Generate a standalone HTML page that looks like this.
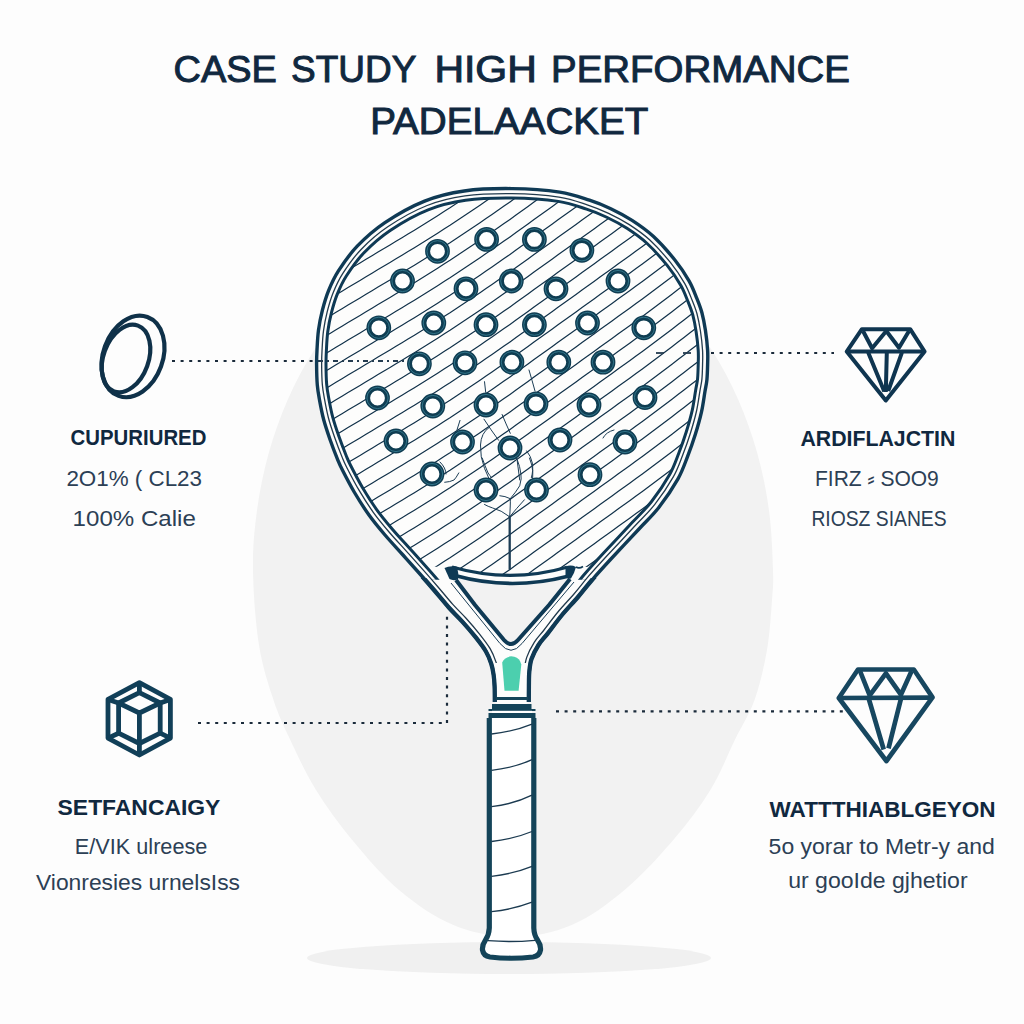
<!DOCTYPE html>
<html><head><meta charset="utf-8">
<style>
html,body{margin:0;padding:0;background:#fdfdfd;}
svg{display:block;}
text{font-family:"Liberation Sans",sans-serif;}
</style></head>
<body>
<svg width="1024" height="1024" viewBox="0 0 1024 1024">
<defs>
<clipPath id="racketClip"><path d="M 494.80 702.00 C 494.77 699.40 494.80 690.95 494.60 686.40 C 494.40 681.85 494.16 678.48 493.60 674.70 C 493.04 670.93 492.55 667.66 491.25 663.75 C 489.95 659.84 488.41 655.67 485.80 651.25 C 483.19 646.83 479.52 642.14 475.60 637.20 C 471.68 632.26 466.77 626.55 462.30 621.60 C 457.83 616.65 453.52 612.77 448.80 607.50 C 444.08 602.23 438.80 595.58 434.00 590.00 C 429.20 584.42 425.17 579.83 420.00 574.00 C 414.83 568.17 408.83 561.50 403.00 555.00 C 397.17 548.50 390.67 541.67 385.00 535.00 C 379.33 528.33 374.08 522.08 369.00 515.00 C 363.92 507.92 358.93 500.00 354.50 492.50 C 350.07 485.00 345.23 475.54 342.40 470.00 C 339.57 464.46 339.61 464.37 337.54 459.28 C 335.47 454.19 332.32 446.06 330.00 439.44 C 327.69 432.82 325.40 426.19 323.64 419.56 C 321.89 412.94 320.53 405.48 319.47 399.69 C 318.41 393.91 317.77 390.64 317.29 384.86 C 316.82 379.07 316.65 370.78 316.60 364.99 C 316.55 359.19 316.68 355.89 317.00 350.09 C 317.31 344.30 317.59 336.84 318.48 330.23 C 319.38 323.62 320.67 317.02 322.35 310.42 C 324.03 303.82 325.89 297.22 328.57 290.64 C 331.25 284.06 333.65 278.33 338.43 270.92 C 343.20 263.51 349.47 254.23 357.22 246.18 C 364.98 238.13 373.71 230.13 384.95 222.61 C 396.18 215.10 411.41 206.35 424.63 201.08 C 437.85 195.81 449.68 193.06 464.24 190.98 C 478.80 188.90 496.06 188.42 511.98 188.60 C 527.90 188.78 546.83 190.15 559.75 192.08 C 572.66 194.02 580.97 197.44 589.47 200.22 C 597.98 202.99 603.67 205.37 610.77 208.74 C 617.87 212.10 624.99 215.82 632.07 220.43 C 639.15 225.03 646.15 229.79 653.25 236.35 C 660.35 242.91 668.71 252.35 674.68 259.77 C 680.64 267.18 685.32 274.37 689.02 280.84 C 692.73 287.32 694.79 293.37 696.93 298.64 C 699.06 303.91 700.44 307.17 701.86 312.44 C 703.27 317.71 704.46 323.98 705.42 330.26 C 706.38 336.53 707.24 344.32 707.60 350.11 C 707.97 355.89 707.72 360.01 707.60 364.96 C 707.48 369.91 707.35 375.37 706.91 379.83 C 706.46 384.29 705.83 386.33 704.92 391.72 C 704.01 397.10 703.05 405.00 701.44 412.13 C 699.83 419.26 697.62 427.03 695.28 434.49 C 692.94 441.95 690.32 449.44 687.42 456.88 C 684.51 464.32 682.61 470.68 677.84 479.12 C 673.08 487.56 665.27 499.19 658.80 507.50 C 652.33 515.81 647.13 520.25 639.00 529.00 C 630.87 537.75 617.83 551.50 610.00 560.00 C 602.17 568.50 597.33 573.83 592.00 580.00 C 586.67 586.17 583.00 591.17 578.00 597.00 C 573.00 602.83 567.07 608.90 562.00 615.00 C 556.93 621.10 551.52 628.60 547.60 633.60 C 543.68 638.60 541.18 640.77 538.50 645.00 C 535.82 649.23 533.03 654.50 531.50 659.00 C 529.97 663.50 529.73 667.43 529.30 672.00 C 528.87 676.57 528.98 681.40 528.90 686.40 C 528.82 691.40 528.82 699.40 528.80 702.00 L 511.7 720 Z"/></clipPath>
<clipPath id="aboveBridge"><path d="M 0 0 H 1024 V 560 L 567 567.2 Q 510 583.6 452 567 L 0 560 Z"/></clipPath>
<clipPath id="aboveBridge2"><path d="M 0 0 H 1024 V 575 Q 512 585 0 575 Z"/></clipPath>
<clipPath id="throatBand"><rect x="0" y="0" width="1024" height="663"/></clipPath>
<clipPath id="belowBridge"><rect x="0" y="578" width="1024" height="200"/></clipPath>
</defs>
<rect width="1024" height="1024" fill="#fdfdfd"/>
<path d="M 253.00 570.00 C 252.66 547.63 254.34 530.22 256.95 510.79 C 259.56 491.35 263.53 471.92 268.68 453.37 C 273.83 434.82 280.31 416.59 287.83 399.50 C 295.36 382.41 304.15 365.93 313.83 350.81 C 323.50 335.69 334.35 321.47 345.88 308.78 C 357.40 296.09 369.97 284.55 383.00 274.69 C 396.03 264.82 409.93 256.32 424.07 249.56 C 438.22 242.81 453.03 237.61 467.85 234.18 C 482.67 230.75 497.95 229.00 513.00 229.00 C 528.05 229.00 543.33 230.75 558.15 234.18 C 572.97 237.61 587.78 242.81 601.93 249.56 C 616.07 256.32 629.97 264.82 643.00 274.69 C 656.03 284.55 668.60 296.09 680.12 308.78 C 691.65 321.47 702.50 335.69 712.17 350.81 C 721.85 365.93 730.64 382.41 738.17 399.50 C 745.69 416.59 752.17 434.82 757.32 453.37 C 762.47 471.92 766.44 491.35 769.05 510.79 C 771.66 530.22 772.51 555.13 773.00 570.00 C 773.49 584.87 773.00 586.67 772.00 600.00 C 771.00 613.33 769.92 633.33 767.00 650.00 C 764.08 666.67 759.87 685.00 754.50 700.00 C 749.13 715.00 742.15 725.00 734.80 740.00 C 727.45 755.00 720.65 773.33 710.40 790.00 C 700.15 806.67 687.62 823.33 673.30 840.00 C 658.98 856.67 641.43 875.83 624.50 890.00 C 607.57 904.17 590.28 917.17 571.70 925.00 C 553.12 932.83 532.72 937.00 513.00 937.00 C 493.28 937.00 472.40 932.83 453.40 925.00 C 434.40 917.17 415.87 904.17 399.00 890.00 C 382.13 875.83 366.03 856.67 352.20 840.00 C 338.37 823.33 326.32 806.67 316.00 790.00 C 305.68 773.33 297.38 755.00 290.30 740.00 C 283.22 725.00 278.72 715.83 273.50 700.00 C 268.28 684.17 262.42 666.67 259.00 645.00 C 255.58 623.33 253.34 592.37 253.00 570.00 Z" fill="#f2f2f2"/>
<ellipse cx="509" cy="958" rx="202" ry="16" fill="#f0f0f0"/>

<!-- dotted connectors -->
<g stroke="#1b2b3b" stroke-width="2.2" stroke-dasharray="3 5.6" fill="none">
<line x1="172" y1="361" x2="318" y2="361"/>
<line x1="711" y1="353" x2="834" y2="353"/>
<line x1="198" y1="723" x2="447" y2="723"/>
<line x1="447" y1="723" x2="447" y2="612"/>
<line x1="556" y1="711.3" x2="846" y2="711.3"/>
</g>

<!-- racket body -->
<path d="M 494.80 702.00 C 494.77 699.40 494.80 690.95 494.60 686.40 C 494.40 681.85 494.16 678.48 493.60 674.70 C 493.04 670.93 492.55 667.66 491.25 663.75 C 489.95 659.84 488.41 655.67 485.80 651.25 C 483.19 646.83 479.52 642.14 475.60 637.20 C 471.68 632.26 466.77 626.55 462.30 621.60 C 457.83 616.65 453.52 612.77 448.80 607.50 C 444.08 602.23 438.80 595.58 434.00 590.00 C 429.20 584.42 425.17 579.83 420.00 574.00 C 414.83 568.17 408.83 561.50 403.00 555.00 C 397.17 548.50 390.67 541.67 385.00 535.00 C 379.33 528.33 374.08 522.08 369.00 515.00 C 363.92 507.92 358.93 500.00 354.50 492.50 C 350.07 485.00 345.23 475.54 342.40 470.00 C 339.57 464.46 339.61 464.37 337.54 459.28 C 335.47 454.19 332.32 446.06 330.00 439.44 C 327.69 432.82 325.40 426.19 323.64 419.56 C 321.89 412.94 320.53 405.48 319.47 399.69 C 318.41 393.91 317.77 390.64 317.29 384.86 C 316.82 379.07 316.65 370.78 316.60 364.99 C 316.55 359.19 316.68 355.89 317.00 350.09 C 317.31 344.30 317.59 336.84 318.48 330.23 C 319.38 323.62 320.67 317.02 322.35 310.42 C 324.03 303.82 325.89 297.22 328.57 290.64 C 331.25 284.06 333.65 278.33 338.43 270.92 C 343.20 263.51 349.47 254.23 357.22 246.18 C 364.98 238.13 373.71 230.13 384.95 222.61 C 396.18 215.10 411.41 206.35 424.63 201.08 C 437.85 195.81 449.68 193.06 464.24 190.98 C 478.80 188.90 496.06 188.42 511.98 188.60 C 527.90 188.78 546.83 190.15 559.75 192.08 C 572.66 194.02 580.97 197.44 589.47 200.22 C 597.98 202.99 603.67 205.37 610.77 208.74 C 617.87 212.10 624.99 215.82 632.07 220.43 C 639.15 225.03 646.15 229.79 653.25 236.35 C 660.35 242.91 668.71 252.35 674.68 259.77 C 680.64 267.18 685.32 274.37 689.02 280.84 C 692.73 287.32 694.79 293.37 696.93 298.64 C 699.06 303.91 700.44 307.17 701.86 312.44 C 703.27 317.71 704.46 323.98 705.42 330.26 C 706.38 336.53 707.24 344.32 707.60 350.11 C 707.97 355.89 707.72 360.01 707.60 364.96 C 707.48 369.91 707.35 375.37 706.91 379.83 C 706.46 384.29 705.83 386.33 704.92 391.72 C 704.01 397.10 703.05 405.00 701.44 412.13 C 699.83 419.26 697.62 427.03 695.28 434.49 C 692.94 441.95 690.32 449.44 687.42 456.88 C 684.51 464.32 682.61 470.68 677.84 479.12 C 673.08 487.56 665.27 499.19 658.80 507.50 C 652.33 515.81 647.13 520.25 639.00 529.00 C 630.87 537.75 617.83 551.50 610.00 560.00 C 602.17 568.50 597.33 573.83 592.00 580.00 C 586.67 586.17 583.00 591.17 578.00 597.00 C 573.00 602.83 567.07 608.90 562.00 615.00 C 556.93 621.10 551.52 628.60 547.60 633.60 C 543.68 638.60 541.18 640.77 538.50 645.00 C 535.82 649.23 533.03 654.50 531.50 659.00 C 529.97 663.50 529.73 667.43 529.30 672.00 C 528.87 676.57 528.98 681.40 528.90 686.40 C 528.82 691.40 528.82 699.40 528.80 702.00 L 511.7 720 Z" fill="#fdfdfc"/>
<g clip-path="url(#racketClip)">
  <g clip-path="url(#aboveBridge)" stroke="#12324a" stroke-width="1.2" fill="none">
  <polyline points="300,176.4 306,172.8 312,169.2 318,165.6 324,162.0 330,158.4 336,154.8 342,151.2 348,147.6 354,144.0 360,140.4 366,136.8 372,133.2 378,129.6 384,126.0 390,122.4 396,118.8 402,115.2 408,111.6 414,107.9 420,104.2 426,100.5 432,96.7 438,92.9 444,89.0 450,85.2 456,81.2 462,77.3 468,73.3 474,69.3 480,65.2 486,61.1 492,57.0 498,52.8 504,48.6 510,44.4 516,40.1 522,35.8 528,31.4 534,27.1 540,22.8 546,18.5 552,14.2 558,9.8 564,5.5 570,1.2 576,-3.1 582,-7.4 588,-11.8 594,-16.1 600,-20.4 606,-24.7 612,-29.0 618,-33.4 624,-37.7 630,-42.0 636,-46.4 642,-50.8 648,-55.3 654,-59.7 660,-64.2 666,-68.8 672,-73.3 678,-77.9 684,-82.5 690,-87.2 696,-91.8 702,-96.5 708,-101.3 714,-106.0 720,-110.8 726,-115.6"/>
<polyline points="300,193.9 306,190.3 312,186.7 318,183.1 324,179.5 330,175.9 336,172.3 342,168.7 348,165.1 354,161.5 360,157.9 366,154.3 372,150.7 378,147.1 384,143.5 390,139.9 396,136.3 402,132.7 408,129.1 414,125.4 420,121.7 426,118.0 432,114.2 438,110.4 444,106.5 450,102.7 456,98.7 462,94.8 468,90.8 474,86.8 480,82.7 486,78.6 492,74.5 498,70.3 504,66.1 510,61.9 516,57.6 522,53.3 528,48.9 534,44.6 540,40.3 546,36.0 552,31.7 558,27.3 564,23.0 570,18.7 576,14.4 582,10.1 588,5.7 594,1.4 600,-2.9 606,-7.2 612,-11.5 618,-15.9 624,-20.2 630,-24.5 636,-28.9 642,-33.3 648,-37.8 654,-42.2 660,-46.7 666,-51.3 672,-55.8 678,-60.4 684,-65.0 690,-69.7 696,-74.3 702,-79.0 708,-83.8 714,-88.5 720,-93.3 726,-98.1"/>
<polyline points="300,211.4 306,207.8 312,204.2 318,200.6 324,197.0 330,193.4 336,189.8 342,186.2 348,182.6 354,179.0 360,175.4 366,171.8 372,168.2 378,164.6 384,161.0 390,157.4 396,153.8 402,150.2 408,146.6 414,142.9 420,139.2 426,135.5 432,131.7 438,127.9 444,124.0 450,120.2 456,116.2 462,112.3 468,108.3 474,104.3 480,100.2 486,96.1 492,92.0 498,87.8 504,83.6 510,79.4 516,75.1 522,70.8 528,66.4 534,62.1 540,57.8 546,53.5 552,49.2 558,44.8 564,40.5 570,36.2 576,31.9 582,27.6 588,23.2 594,18.9 600,14.6 606,10.3 612,6.0 618,1.6 624,-2.7 630,-7.0 636,-11.4 642,-15.8 648,-20.3 654,-24.7 660,-29.2 666,-33.8 672,-38.3 678,-42.9 684,-47.5 690,-52.2 696,-56.8 702,-61.5 708,-66.3 714,-71.0 720,-75.8 726,-80.6"/>
<polyline points="300,228.9 306,225.3 312,221.7 318,218.1 324,214.5 330,210.9 336,207.3 342,203.7 348,200.1 354,196.5 360,192.9 366,189.3 372,185.7 378,182.1 384,178.5 390,174.9 396,171.3 402,167.7 408,164.1 414,160.4 420,156.7 426,153.0 432,149.2 438,145.4 444,141.5 450,137.7 456,133.7 462,129.8 468,125.8 474,121.8 480,117.7 486,113.6 492,109.5 498,105.3 504,101.1 510,96.9 516,92.6 522,88.3 528,83.9 534,79.6 540,75.3 546,71.0 552,66.7 558,62.3 564,58.0 570,53.7 576,49.4 582,45.1 588,40.7 594,36.4 600,32.1 606,27.8 612,23.5 618,19.1 624,14.8 630,10.5 636,6.1 642,1.7 648,-2.8 654,-7.2 660,-11.7 666,-16.3 672,-20.8 678,-25.4 684,-30.0 690,-34.7 696,-39.3 702,-44.0 708,-48.8 714,-53.5 720,-58.3 726,-63.1"/>
<polyline points="300,246.4 306,242.8 312,239.2 318,235.6 324,232.0 330,228.4 336,224.8 342,221.2 348,217.6 354,214.0 360,210.4 366,206.8 372,203.2 378,199.6 384,196.0 390,192.4 396,188.8 402,185.2 408,181.6 414,177.9 420,174.2 426,170.5 432,166.7 438,162.9 444,159.0 450,155.2 456,151.2 462,147.3 468,143.3 474,139.3 480,135.2 486,131.1 492,127.0 498,122.8 504,118.6 510,114.4 516,110.1 522,105.8 528,101.4 534,97.1 540,92.8 546,88.5 552,84.2 558,79.8 564,75.5 570,71.2 576,66.9 582,62.6 588,58.2 594,53.9 600,49.6 606,45.3 612,41.0 618,36.6 624,32.3 630,28.0 636,23.6 642,19.2 648,14.7 654,10.3 660,5.8 666,1.2 672,-3.3 678,-7.9 684,-12.5 690,-17.2 696,-21.8 702,-26.5 708,-31.3 714,-36.0 720,-40.8 726,-45.6"/>
<polyline points="300,263.9 306,260.3 312,256.7 318,253.1 324,249.5 330,245.9 336,242.3 342,238.7 348,235.1 354,231.5 360,227.9 366,224.3 372,220.7 378,217.1 384,213.5 390,209.9 396,206.3 402,202.7 408,199.1 414,195.4 420,191.7 426,188.0 432,184.2 438,180.4 444,176.5 450,172.7 456,168.7 462,164.8 468,160.8 474,156.8 480,152.7 486,148.6 492,144.5 498,140.3 504,136.1 510,131.9 516,127.6 522,123.3 528,118.9 534,114.6 540,110.3 546,106.0 552,101.7 558,97.3 564,93.0 570,88.7 576,84.4 582,80.1 588,75.7 594,71.4 600,67.1 606,62.8 612,58.5 618,54.1 624,49.8 630,45.5 636,41.1 642,36.7 648,32.2 654,27.8 660,23.3 666,18.7 672,14.2 678,9.6 684,5.0 690,0.3 696,-4.3 702,-9.0 708,-13.8 714,-18.5 720,-23.3 726,-28.1"/>
<polyline points="300,281.4 306,277.8 312,274.2 318,270.6 324,267.0 330,263.4 336,259.8 342,256.2 348,252.6 354,249.0 360,245.4 366,241.8 372,238.2 378,234.6 384,231.0 390,227.4 396,223.8 402,220.2 408,216.6 414,212.9 420,209.2 426,205.5 432,201.7 438,197.9 444,194.0 450,190.2 456,186.2 462,182.3 468,178.3 474,174.3 480,170.2 486,166.1 492,162.0 498,157.8 504,153.6 510,149.4 516,145.1 522,140.8 528,136.4 534,132.1 540,127.8 546,123.5 552,119.2 558,114.8 564,110.5 570,106.2 576,101.9 582,97.6 588,93.2 594,88.9 600,84.6 606,80.3 612,76.0 618,71.6 624,67.3 630,63.0 636,58.6 642,54.2 648,49.7 654,45.3 660,40.8 666,36.2 672,31.7 678,27.1 684,22.5 690,17.8 696,13.2 702,8.5 708,3.7 714,-1.0 720,-5.8 726,-10.6"/>
<polyline points="300,298.9 306,295.3 312,291.7 318,288.1 324,284.5 330,280.9 336,277.3 342,273.7 348,270.1 354,266.5 360,262.9 366,259.3 372,255.7 378,252.1 384,248.5 390,244.9 396,241.3 402,237.7 408,234.1 414,230.4 420,226.7 426,223.0 432,219.2 438,215.4 444,211.5 450,207.7 456,203.7 462,199.8 468,195.8 474,191.8 480,187.7 486,183.6 492,179.5 498,175.3 504,171.1 510,166.9 516,162.6 522,158.3 528,153.9 534,149.6 540,145.3 546,141.0 552,136.7 558,132.3 564,128.0 570,123.7 576,119.4 582,115.1 588,110.7 594,106.4 600,102.1 606,97.8 612,93.5 618,89.1 624,84.8 630,80.5 636,76.1 642,71.7 648,67.2 654,62.8 660,58.3 666,53.7 672,49.2 678,44.6 684,40.0 690,35.3 696,30.7 702,26.0 708,21.2 714,16.5 720,11.7 726,6.9"/>
<polyline points="300,316.4 306,312.8 312,309.2 318,305.6 324,302.0 330,298.4 336,294.8 342,291.2 348,287.6 354,284.0 360,280.4 366,276.8 372,273.2 378,269.6 384,266.0 390,262.4 396,258.8 402,255.2 408,251.6 414,247.9 420,244.2 426,240.5 432,236.7 438,232.9 444,229.0 450,225.2 456,221.2 462,217.3 468,213.3 474,209.3 480,205.2 486,201.1 492,197.0 498,192.8 504,188.6 510,184.4 516,180.1 522,175.8 528,171.4 534,167.1 540,162.8 546,158.5 552,154.2 558,149.8 564,145.5 570,141.2 576,136.9 582,132.6 588,128.2 594,123.9 600,119.6 606,115.3 612,111.0 618,106.6 624,102.3 630,98.0 636,93.6 642,89.2 648,84.7 654,80.3 660,75.8 666,71.2 672,66.7 678,62.1 684,57.5 690,52.8 696,48.2 702,43.5 708,38.7 714,34.0 720,29.2 726,24.4"/>
<polyline points="300,333.9 306,330.3 312,326.7 318,323.1 324,319.5 330,315.9 336,312.3 342,308.7 348,305.1 354,301.5 360,297.9 366,294.3 372,290.7 378,287.1 384,283.5 390,279.9 396,276.3 402,272.7 408,269.1 414,265.4 420,261.7 426,258.0 432,254.2 438,250.4 444,246.5 450,242.7 456,238.7 462,234.8 468,230.8 474,226.8 480,222.7 486,218.6 492,214.5 498,210.3 504,206.1 510,201.9 516,197.6 522,193.3 528,188.9 534,184.6 540,180.3 546,176.0 552,171.7 558,167.3 564,163.0 570,158.7 576,154.4 582,150.1 588,145.7 594,141.4 600,137.1 606,132.8 612,128.5 618,124.1 624,119.8 630,115.5 636,111.1 642,106.7 648,102.2 654,97.8 660,93.3 666,88.7 672,84.2 678,79.6 684,75.0 690,70.3 696,65.7 702,61.0 708,56.2 714,51.5 720,46.7 726,41.9"/>
<polyline points="300,351.4 306,347.8 312,344.2 318,340.6 324,337.0 330,333.4 336,329.8 342,326.2 348,322.6 354,319.0 360,315.4 366,311.8 372,308.2 378,304.6 384,301.0 390,297.4 396,293.8 402,290.2 408,286.6 414,282.9 420,279.2 426,275.5 432,271.7 438,267.9 444,264.0 450,260.2 456,256.2 462,252.3 468,248.3 474,244.3 480,240.2 486,236.1 492,232.0 498,227.8 504,223.6 510,219.4 516,215.1 522,210.8 528,206.4 534,202.1 540,197.8 546,193.5 552,189.2 558,184.8 564,180.5 570,176.2 576,171.9 582,167.6 588,163.2 594,158.9 600,154.6 606,150.3 612,146.0 618,141.6 624,137.3 630,133.0 636,128.6 642,124.2 648,119.7 654,115.3 660,110.8 666,106.2 672,101.7 678,97.1 684,92.5 690,87.8 696,83.2 702,78.5 708,73.7 714,69.0 720,64.2 726,59.4"/>
<polyline points="300,368.9 306,365.3 312,361.7 318,358.1 324,354.5 330,350.9 336,347.3 342,343.7 348,340.1 354,336.5 360,332.9 366,329.3 372,325.7 378,322.1 384,318.5 390,314.9 396,311.3 402,307.7 408,304.1 414,300.4 420,296.7 426,293.0 432,289.2 438,285.4 444,281.5 450,277.7 456,273.7 462,269.8 468,265.8 474,261.8 480,257.7 486,253.6 492,249.5 498,245.3 504,241.1 510,236.9 516,232.6 522,228.3 528,223.9 534,219.6 540,215.3 546,211.0 552,206.7 558,202.3 564,198.0 570,193.7 576,189.4 582,185.1 588,180.7 594,176.4 600,172.1 606,167.8 612,163.5 618,159.1 624,154.8 630,150.5 636,146.1 642,141.7 648,137.2 654,132.8 660,128.3 666,123.7 672,119.2 678,114.6 684,110.0 690,105.3 696,100.7 702,96.0 708,91.2 714,86.5 720,81.7 726,76.9"/>
<polyline points="300,386.4 306,382.8 312,379.2 318,375.6 324,372.0 330,368.4 336,364.8 342,361.2 348,357.6 354,354.0 360,350.4 366,346.8 372,343.2 378,339.6 384,336.0 390,332.4 396,328.8 402,325.2 408,321.6 414,317.9 420,314.2 426,310.5 432,306.7 438,302.9 444,299.0 450,295.2 456,291.2 462,287.3 468,283.3 474,279.3 480,275.2 486,271.1 492,267.0 498,262.8 504,258.6 510,254.4 516,250.1 522,245.8 528,241.4 534,237.1 540,232.8 546,228.5 552,224.2 558,219.8 564,215.5 570,211.2 576,206.9 582,202.6 588,198.2 594,193.9 600,189.6 606,185.3 612,181.0 618,176.6 624,172.3 630,168.0 636,163.6 642,159.2 648,154.7 654,150.3 660,145.8 666,141.2 672,136.7 678,132.1 684,127.5 690,122.8 696,118.2 702,113.5 708,108.7 714,104.0 720,99.2 726,94.4"/>
<polyline points="300,403.9 306,400.3 312,396.7 318,393.1 324,389.5 330,385.9 336,382.3 342,378.7 348,375.1 354,371.5 360,367.9 366,364.3 372,360.7 378,357.1 384,353.5 390,349.9 396,346.3 402,342.7 408,339.1 414,335.4 420,331.7 426,328.0 432,324.2 438,320.4 444,316.5 450,312.7 456,308.7 462,304.8 468,300.8 474,296.8 480,292.7 486,288.6 492,284.5 498,280.3 504,276.1 510,271.9 516,267.6 522,263.3 528,258.9 534,254.6 540,250.3 546,246.0 552,241.7 558,237.3 564,233.0 570,228.7 576,224.4 582,220.1 588,215.7 594,211.4 600,207.1 606,202.8 612,198.5 618,194.1 624,189.8 630,185.5 636,181.1 642,176.7 648,172.2 654,167.8 660,163.3 666,158.7 672,154.2 678,149.6 684,145.0 690,140.3 696,135.7 702,131.0 708,126.2 714,121.5 720,116.7 726,111.9"/>
<polyline points="300,421.4 306,417.8 312,414.2 318,410.6 324,407.0 330,403.4 336,399.8 342,396.2 348,392.6 354,389.0 360,385.4 366,381.8 372,378.2 378,374.6 384,371.0 390,367.4 396,363.8 402,360.2 408,356.6 414,352.9 420,349.2 426,345.5 432,341.7 438,337.9 444,334.0 450,330.2 456,326.2 462,322.3 468,318.3 474,314.3 480,310.2 486,306.1 492,302.0 498,297.8 504,293.6 510,289.4 516,285.1 522,280.8 528,276.4 534,272.1 540,267.8 546,263.5 552,259.2 558,254.8 564,250.5 570,246.2 576,241.9 582,237.6 588,233.2 594,228.9 600,224.6 606,220.3 612,216.0 618,211.6 624,207.3 630,203.0 636,198.6 642,194.2 648,189.7 654,185.3 660,180.8 666,176.2 672,171.7 678,167.1 684,162.5 690,157.8 696,153.2 702,148.5 708,143.7 714,139.0 720,134.2 726,129.4"/>
<polyline points="300,438.9 306,435.3 312,431.7 318,428.1 324,424.5 330,420.9 336,417.3 342,413.7 348,410.1 354,406.5 360,402.9 366,399.3 372,395.7 378,392.1 384,388.5 390,384.9 396,381.3 402,377.7 408,374.1 414,370.4 420,366.7 426,363.0 432,359.2 438,355.4 444,351.5 450,347.7 456,343.7 462,339.8 468,335.8 474,331.8 480,327.7 486,323.6 492,319.5 498,315.3 504,311.1 510,306.9 516,302.6 522,298.3 528,293.9 534,289.6 540,285.3 546,281.0 552,276.7 558,272.3 564,268.0 570,263.7 576,259.4 582,255.1 588,250.7 594,246.4 600,242.1 606,237.8 612,233.5 618,229.1 624,224.8 630,220.5 636,216.1 642,211.7 648,207.2 654,202.8 660,198.3 666,193.7 672,189.2 678,184.6 684,180.0 690,175.3 696,170.7 702,166.0 708,161.2 714,156.5 720,151.7 726,146.9"/>
<polyline points="300,456.4 306,452.8 312,449.2 318,445.6 324,442.0 330,438.4 336,434.8 342,431.2 348,427.6 354,424.0 360,420.4 366,416.8 372,413.2 378,409.6 384,406.0 390,402.4 396,398.8 402,395.2 408,391.6 414,387.9 420,384.2 426,380.5 432,376.7 438,372.9 444,369.0 450,365.2 456,361.2 462,357.3 468,353.3 474,349.3 480,345.2 486,341.1 492,337.0 498,332.8 504,328.6 510,324.4 516,320.1 522,315.8 528,311.4 534,307.1 540,302.8 546,298.5 552,294.2 558,289.8 564,285.5 570,281.2 576,276.9 582,272.6 588,268.2 594,263.9 600,259.6 606,255.3 612,251.0 618,246.6 624,242.3 630,238.0 636,233.6 642,229.2 648,224.7 654,220.3 660,215.8 666,211.2 672,206.7 678,202.1 684,197.5 690,192.8 696,188.2 702,183.5 708,178.7 714,174.0 720,169.2 726,164.4"/>
<polyline points="300,473.9 306,470.3 312,466.7 318,463.1 324,459.5 330,455.9 336,452.3 342,448.7 348,445.1 354,441.5 360,437.9 366,434.3 372,430.7 378,427.1 384,423.5 390,419.9 396,416.3 402,412.7 408,409.1 414,405.4 420,401.7 426,398.0 432,394.2 438,390.4 444,386.5 450,382.7 456,378.7 462,374.8 468,370.8 474,366.8 480,362.7 486,358.6 492,354.5 498,350.3 504,346.1 510,341.9 516,337.6 522,333.3 528,328.9 534,324.6 540,320.3 546,316.0 552,311.7 558,307.3 564,303.0 570,298.7 576,294.4 582,290.1 588,285.7 594,281.4 600,277.1 606,272.8 612,268.5 618,264.1 624,259.8 630,255.5 636,251.1 642,246.7 648,242.2 654,237.8 660,233.3 666,228.7 672,224.2 678,219.6 684,215.0 690,210.3 696,205.7 702,201.0 708,196.2 714,191.5 720,186.7 726,181.9"/>
<polyline points="300,491.4 306,487.8 312,484.2 318,480.6 324,477.0 330,473.4 336,469.8 342,466.2 348,462.6 354,459.0 360,455.4 366,451.8 372,448.2 378,444.6 384,441.0 390,437.4 396,433.8 402,430.2 408,426.6 414,422.9 420,419.2 426,415.5 432,411.7 438,407.9 444,404.0 450,400.2 456,396.2 462,392.3 468,388.3 474,384.3 480,380.2 486,376.1 492,372.0 498,367.8 504,363.6 510,359.4 516,355.1 522,350.8 528,346.4 534,342.1 540,337.8 546,333.5 552,329.2 558,324.8 564,320.5 570,316.2 576,311.9 582,307.6 588,303.2 594,298.9 600,294.6 606,290.3 612,286.0 618,281.6 624,277.3 630,273.0 636,268.6 642,264.2 648,259.7 654,255.3 660,250.8 666,246.2 672,241.7 678,237.1 684,232.5 690,227.8 696,223.2 702,218.5 708,213.7 714,209.0 720,204.2 726,199.4"/>
<polyline points="300,508.9 306,505.3 312,501.7 318,498.1 324,494.5 330,490.9 336,487.3 342,483.7 348,480.1 354,476.5 360,472.9 366,469.3 372,465.7 378,462.1 384,458.5 390,454.9 396,451.3 402,447.7 408,444.1 414,440.4 420,436.7 426,433.0 432,429.2 438,425.4 444,421.5 450,417.7 456,413.7 462,409.8 468,405.8 474,401.8 480,397.7 486,393.6 492,389.5 498,385.3 504,381.1 510,376.9 516,372.6 522,368.3 528,363.9 534,359.6 540,355.3 546,351.0 552,346.7 558,342.3 564,338.0 570,333.7 576,329.4 582,325.1 588,320.7 594,316.4 600,312.1 606,307.8 612,303.5 618,299.1 624,294.8 630,290.5 636,286.1 642,281.7 648,277.2 654,272.8 660,268.3 666,263.7 672,259.2 678,254.6 684,250.0 690,245.3 696,240.7 702,236.0 708,231.2 714,226.5 720,221.7 726,216.9"/>
<polyline points="300,526.4 306,522.8 312,519.2 318,515.6 324,512.0 330,508.4 336,504.8 342,501.2 348,497.6 354,494.0 360,490.4 366,486.8 372,483.2 378,479.6 384,476.0 390,472.4 396,468.8 402,465.2 408,461.6 414,457.9 420,454.2 426,450.5 432,446.7 438,442.9 444,439.0 450,435.2 456,431.2 462,427.3 468,423.3 474,419.3 480,415.2 486,411.1 492,407.0 498,402.8 504,398.6 510,394.4 516,390.1 522,385.8 528,381.4 534,377.1 540,372.8 546,368.5 552,364.2 558,359.8 564,355.5 570,351.2 576,346.9 582,342.6 588,338.2 594,333.9 600,329.6 606,325.3 612,321.0 618,316.6 624,312.3 630,308.0 636,303.6 642,299.2 648,294.7 654,290.3 660,285.8 666,281.2 672,276.7 678,272.1 684,267.5 690,262.8 696,258.2 702,253.5 708,248.7 714,244.0 720,239.2 726,234.4"/>
<polyline points="300,543.9 306,540.3 312,536.7 318,533.1 324,529.5 330,525.9 336,522.3 342,518.7 348,515.1 354,511.5 360,507.9 366,504.3 372,500.7 378,497.1 384,493.5 390,489.9 396,486.3 402,482.7 408,479.1 414,475.4 420,471.7 426,468.0 432,464.2 438,460.4 444,456.5 450,452.7 456,448.7 462,444.8 468,440.8 474,436.8 480,432.7 486,428.6 492,424.5 498,420.3 504,416.1 510,411.9 516,407.6 522,403.3 528,398.9 534,394.6 540,390.3 546,386.0 552,381.7 558,377.3 564,373.0 570,368.7 576,364.4 582,360.1 588,355.7 594,351.4 600,347.1 606,342.8 612,338.5 618,334.1 624,329.8 630,325.5 636,321.1 642,316.7 648,312.2 654,307.8 660,303.3 666,298.7 672,294.2 678,289.6 684,285.0 690,280.3 696,275.7 702,271.0 708,266.2 714,261.5 720,256.7 726,251.9"/>
<polyline points="300,561.4 306,557.8 312,554.2 318,550.6 324,547.0 330,543.4 336,539.8 342,536.2 348,532.6 354,529.0 360,525.4 366,521.8 372,518.2 378,514.6 384,511.0 390,507.4 396,503.8 402,500.2 408,496.6 414,492.9 420,489.2 426,485.5 432,481.7 438,477.9 444,474.0 450,470.2 456,466.2 462,462.3 468,458.3 474,454.3 480,450.2 486,446.1 492,442.0 498,437.8 504,433.6 510,429.4 516,425.1 522,420.8 528,416.4 534,412.1 540,407.8 546,403.5 552,399.2 558,394.8 564,390.5 570,386.2 576,381.9 582,377.6 588,373.2 594,368.9 600,364.6 606,360.3 612,356.0 618,351.6 624,347.3 630,343.0 636,338.6 642,334.2 648,329.7 654,325.3 660,320.8 666,316.2 672,311.7 678,307.1 684,302.5 690,297.8 696,293.2 702,288.5 708,283.7 714,279.0 720,274.2 726,269.4"/>
<polyline points="300,578.9 306,575.3 312,571.7 318,568.1 324,564.5 330,560.9 336,557.3 342,553.7 348,550.1 354,546.5 360,542.9 366,539.3 372,535.7 378,532.1 384,528.5 390,524.9 396,521.3 402,517.7 408,514.1 414,510.4 420,506.7 426,503.0 432,499.2 438,495.4 444,491.5 450,487.7 456,483.7 462,479.8 468,475.8 474,471.8 480,467.7 486,463.6 492,459.5 498,455.3 504,451.1 510,446.9 516,442.6 522,438.3 528,433.9 534,429.6 540,425.3 546,421.0 552,416.7 558,412.3 564,408.0 570,403.7 576,399.4 582,395.1 588,390.7 594,386.4 600,382.1 606,377.8 612,373.5 618,369.1 624,364.8 630,360.5 636,356.1 642,351.7 648,347.2 654,342.8 660,338.3 666,333.7 672,329.2 678,324.6 684,320.0 690,315.3 696,310.7 702,306.0 708,301.2 714,296.5 720,291.7 726,286.9"/>
<polyline points="300,596.4 306,592.8 312,589.2 318,585.6 324,582.0 330,578.4 336,574.8 342,571.2 348,567.6 354,564.0 360,560.4 366,556.8 372,553.2 378,549.6 384,546.0 390,542.4 396,538.8 402,535.2 408,531.6 414,527.9 420,524.2 426,520.5 432,516.7 438,512.9 444,509.0 450,505.2 456,501.2 462,497.3 468,493.3 474,489.3 480,485.2 486,481.1 492,477.0 498,472.8 504,468.6 510,464.4 516,460.1 522,455.8 528,451.4 534,447.1 540,442.8 546,438.5 552,434.2 558,429.8 564,425.5 570,421.2 576,416.9 582,412.6 588,408.2 594,403.9 600,399.6 606,395.3 612,391.0 618,386.6 624,382.3 630,378.0 636,373.6 642,369.2 648,364.7 654,360.3 660,355.8 666,351.2 672,346.7 678,342.1 684,337.5 690,332.8 696,328.2 702,323.5 708,318.7 714,314.0 720,309.2 726,304.4"/>
<polyline points="300,613.9 306,610.3 312,606.7 318,603.1 324,599.5 330,595.9 336,592.3 342,588.7 348,585.1 354,581.5 360,577.9 366,574.3 372,570.7 378,567.1 384,563.5 390,559.9 396,556.3 402,552.7 408,549.1 414,545.4 420,541.7 426,538.0 432,534.2 438,530.4 444,526.5 450,522.7 456,518.7 462,514.8 468,510.8 474,506.8 480,502.7 486,498.6 492,494.5 498,490.3 504,486.1 510,481.9 516,477.6 522,473.3 528,468.9 534,464.6 540,460.3 546,456.0 552,451.7 558,447.3 564,443.0 570,438.7 576,434.4 582,430.1 588,425.7 594,421.4 600,417.1 606,412.8 612,408.5 618,404.1 624,399.8 630,395.5 636,391.1 642,386.7 648,382.2 654,377.8 660,373.3 666,368.7 672,364.2 678,359.6 684,355.0 690,350.3 696,345.7 702,341.0 708,336.2 714,331.5 720,326.7 726,321.9"/>
<polyline points="300,631.4 306,627.8 312,624.2 318,620.6 324,617.0 330,613.4 336,609.8 342,606.2 348,602.6 354,599.0 360,595.4 366,591.8 372,588.2 378,584.6 384,581.0 390,577.4 396,573.8 402,570.2 408,566.6 414,562.9 420,559.2 426,555.5 432,551.7 438,547.9 444,544.0 450,540.2 456,536.2 462,532.3 468,528.3 474,524.3 480,520.2 486,516.1 492,512.0 498,507.8 504,503.6 510,499.4 516,495.1 522,490.8 528,486.4 534,482.1 540,477.8 546,473.5 552,469.2 558,464.8 564,460.5 570,456.2 576,451.9 582,447.6 588,443.2 594,438.9 600,434.6 606,430.3 612,426.0 618,421.6 624,417.3 630,413.0 636,408.6 642,404.2 648,399.7 654,395.3 660,390.8 666,386.2 672,381.7 678,377.1 684,372.5 690,367.8 696,363.2 702,358.5 708,353.7 714,349.0 720,344.2 726,339.4"/>
<polyline points="300,648.9 306,645.3 312,641.7 318,638.1 324,634.5 330,630.9 336,627.3 342,623.7 348,620.1 354,616.5 360,612.9 366,609.3 372,605.7 378,602.1 384,598.5 390,594.9 396,591.3 402,587.7 408,584.1 414,580.4 420,576.7 426,573.0 432,569.2 438,565.4 444,561.5 450,557.7 456,553.7 462,549.8 468,545.8 474,541.8 480,537.7 486,533.6 492,529.5 498,525.3 504,521.1 510,516.9 516,512.6 522,508.3 528,503.9 534,499.6 540,495.3 546,491.0 552,486.7 558,482.3 564,478.0 570,473.7 576,469.4 582,465.1 588,460.7 594,456.4 600,452.1 606,447.8 612,443.5 618,439.1 624,434.8 630,430.5 636,426.1 642,421.7 648,417.2 654,412.8 660,408.3 666,403.7 672,399.2 678,394.6 684,390.0 690,385.3 696,380.7 702,376.0 708,371.2 714,366.5 720,361.7 726,356.9"/>
<polyline points="300,666.4 306,662.8 312,659.2 318,655.6 324,652.0 330,648.4 336,644.8 342,641.2 348,637.6 354,634.0 360,630.4 366,626.8 372,623.2 378,619.6 384,616.0 390,612.4 396,608.8 402,605.2 408,601.6 414,597.9 420,594.2 426,590.5 432,586.7 438,582.9 444,579.0 450,575.2 456,571.2 462,567.3 468,563.3 474,559.3 480,555.2 486,551.1 492,547.0 498,542.8 504,538.6 510,534.4 516,530.1 522,525.8 528,521.4 534,517.1 540,512.8 546,508.5 552,504.2 558,499.8 564,495.5 570,491.2 576,486.9 582,482.6 588,478.2 594,473.9 600,469.6 606,465.3 612,461.0 618,456.6 624,452.3 630,448.0 636,443.6 642,439.2 648,434.7 654,430.3 660,425.8 666,421.2 672,416.7 678,412.1 684,407.5 690,402.8 696,398.2 702,393.5 708,388.7 714,384.0 720,379.2 726,374.4"/>
<polyline points="300,683.9 306,680.3 312,676.7 318,673.1 324,669.5 330,665.9 336,662.3 342,658.7 348,655.1 354,651.5 360,647.9 366,644.3 372,640.7 378,637.1 384,633.5 390,629.9 396,626.3 402,622.7 408,619.1 414,615.4 420,611.7 426,608.0 432,604.2 438,600.4 444,596.5 450,592.7 456,588.7 462,584.8 468,580.8 474,576.8 480,572.7 486,568.6 492,564.5 498,560.3 504,556.1 510,551.9 516,547.6 522,543.3 528,538.9 534,534.6 540,530.3 546,526.0 552,521.7 558,517.3 564,513.0 570,508.7 576,504.4 582,500.1 588,495.7 594,491.4 600,487.1 606,482.8 612,478.5 618,474.1 624,469.8 630,465.5 636,461.1 642,456.7 648,452.2 654,447.8 660,443.3 666,438.7 672,434.2 678,429.6 684,425.0 690,420.3 696,415.7 702,411.0 708,406.2 714,401.5 720,396.7 726,391.9"/>
<polyline points="300,701.4 306,697.8 312,694.2 318,690.6 324,687.0 330,683.4 336,679.8 342,676.2 348,672.6 354,669.0 360,665.4 366,661.8 372,658.2 378,654.6 384,651.0 390,647.4 396,643.8 402,640.2 408,636.6 414,632.9 420,629.2 426,625.5 432,621.7 438,617.9 444,614.0 450,610.2 456,606.2 462,602.3 468,598.3 474,594.3 480,590.2 486,586.1 492,582.0 498,577.8 504,573.6 510,569.4 516,565.1 522,560.8 528,556.4 534,552.1 540,547.8 546,543.5 552,539.2 558,534.8 564,530.5 570,526.2 576,521.9 582,517.6 588,513.2 594,508.9 600,504.6 606,500.3 612,496.0 618,491.6 624,487.3 630,483.0 636,478.6 642,474.2 648,469.7 654,465.3 660,460.8 666,456.2 672,451.7 678,447.1 684,442.5 690,437.8 696,433.2 702,428.5 708,423.7 714,419.0 720,414.2 726,409.4"/>
<polyline points="300,718.9 306,715.3 312,711.7 318,708.1 324,704.5 330,700.9 336,697.3 342,693.7 348,690.1 354,686.5 360,682.9 366,679.3 372,675.7 378,672.1 384,668.5 390,664.9 396,661.3 402,657.7 408,654.1 414,650.4 420,646.7 426,643.0 432,639.2 438,635.4 444,631.5 450,627.7 456,623.7 462,619.8 468,615.8 474,611.8 480,607.7 486,603.6 492,599.5 498,595.3 504,591.1 510,586.9 516,582.6 522,578.3 528,573.9 534,569.6 540,565.3 546,561.0 552,556.7 558,552.3 564,548.0 570,543.7 576,539.4 582,535.1 588,530.7 594,526.4 600,522.1 606,517.8 612,513.5 618,509.1 624,504.8 630,500.5 636,496.1 642,491.7 648,487.2 654,482.8 660,478.3 666,473.7 672,469.2 678,464.6 684,460.0 690,455.3 696,450.7 702,446.0 708,441.2 714,436.5 720,431.7 726,426.9"/>
<polyline points="300,736.4 306,732.8 312,729.2 318,725.6 324,722.0 330,718.4 336,714.8 342,711.2 348,707.6 354,704.0 360,700.4 366,696.8 372,693.2 378,689.6 384,686.0 390,682.4 396,678.8 402,675.2 408,671.6 414,667.9 420,664.2 426,660.5 432,656.7 438,652.9 444,649.0 450,645.2 456,641.2 462,637.3 468,633.3 474,629.3 480,625.2 486,621.1 492,617.0 498,612.8 504,608.6 510,604.4 516,600.1 522,595.8 528,591.4 534,587.1 540,582.8 546,578.5 552,574.2 558,569.8 564,565.5 570,561.2 576,556.9 582,552.6 588,548.2 594,543.9 600,539.6 606,535.3 612,531.0 618,526.6 624,522.3 630,518.0 636,513.6 642,509.2 648,504.7 654,500.3 660,495.8 666,491.2 672,486.7 678,482.1 684,477.5 690,472.8 696,468.2 702,463.5 708,458.7 714,454.0 720,449.2 726,444.4"/>
<polyline points="300,753.9 306,750.3 312,746.7 318,743.1 324,739.5 330,735.9 336,732.3 342,728.7 348,725.1 354,721.5 360,717.9 366,714.3 372,710.7 378,707.1 384,703.5 390,699.9 396,696.3 402,692.7 408,689.1 414,685.4 420,681.7 426,678.0 432,674.2 438,670.4 444,666.5 450,662.7 456,658.7 462,654.8 468,650.8 474,646.8 480,642.7 486,638.6 492,634.5 498,630.3 504,626.1 510,621.9 516,617.6 522,613.3 528,608.9 534,604.6 540,600.3 546,596.0 552,591.7 558,587.3 564,583.0 570,578.7 576,574.4 582,570.1 588,565.7 594,561.4 600,557.1 606,552.8 612,548.5 618,544.1 624,539.8 630,535.5 636,531.1 642,526.7 648,522.2 654,517.8 660,513.3 666,508.7 672,504.2 678,499.6 684,495.0 690,490.3 696,485.7 702,481.0 708,476.2 714,471.5 720,466.7 726,461.9"/>
<polyline points="300,771.4 306,767.8 312,764.2 318,760.6 324,757.0 330,753.4 336,749.8 342,746.2 348,742.6 354,739.0 360,735.4 366,731.8 372,728.2 378,724.6 384,721.0 390,717.4 396,713.8 402,710.2 408,706.6 414,702.9 420,699.2 426,695.5 432,691.7 438,687.9 444,684.0 450,680.2 456,676.2 462,672.3 468,668.3 474,664.3 480,660.2 486,656.1 492,652.0 498,647.8 504,643.6 510,639.4 516,635.1 522,630.8 528,626.4 534,622.1 540,617.8 546,613.5 552,609.2 558,604.8 564,600.5 570,596.2 576,591.9 582,587.6 588,583.2 594,578.9 600,574.6 606,570.3 612,566.0 618,561.6 624,557.3 630,553.0 636,548.6 642,544.2 648,539.7 654,535.3 660,530.8 666,526.2 672,521.7 678,517.1 684,512.5 690,507.8 696,503.2 702,498.5 708,493.7 714,489.0 720,484.2 726,479.4"/>
<polyline points="300,788.9 306,785.3 312,781.7 318,778.1 324,774.5 330,770.9 336,767.3 342,763.7 348,760.1 354,756.5 360,752.9 366,749.3 372,745.7 378,742.1 384,738.5 390,734.9 396,731.3 402,727.7 408,724.1 414,720.4 420,716.7 426,713.0 432,709.2 438,705.4 444,701.5 450,697.7 456,693.7 462,689.8 468,685.8 474,681.8 480,677.7 486,673.6 492,669.5 498,665.3 504,661.1 510,656.9 516,652.6 522,648.3 528,643.9 534,639.6 540,635.3 546,631.0 552,626.7 558,622.3 564,618.0 570,613.7 576,609.4 582,605.1 588,600.7 594,596.4 600,592.1 606,587.8 612,583.5 618,579.1 624,574.8 630,570.5 636,566.1 642,561.7 648,557.2 654,552.8 660,548.3 666,543.7 672,539.2 678,534.6 684,530.0 690,525.3 696,520.7 702,516.0 708,511.2 714,506.5 720,501.7 726,496.9"/>
<polyline points="300,806.4 306,802.8 312,799.2 318,795.6 324,792.0 330,788.4 336,784.8 342,781.2 348,777.6 354,774.0 360,770.4 366,766.8 372,763.2 378,759.6 384,756.0 390,752.4 396,748.8 402,745.2 408,741.6 414,737.9 420,734.2 426,730.5 432,726.7 438,722.9 444,719.0 450,715.2 456,711.2 462,707.3 468,703.3 474,699.3 480,695.2 486,691.1 492,687.0 498,682.8 504,678.6 510,674.4 516,670.1 522,665.8 528,661.4 534,657.1 540,652.8 546,648.5 552,644.2 558,639.8 564,635.5 570,631.2 576,626.9 582,622.6 588,618.2 594,613.9 600,609.6 606,605.3 612,601.0 618,596.6 624,592.3 630,588.0 636,583.6 642,579.2 648,574.7 654,570.3 660,565.8 666,561.2 672,556.7 678,552.1 684,547.5 690,542.8 696,538.2 702,533.5 708,528.7 714,524.0 720,519.2 726,514.4"/>
<polyline points="300,823.9 306,820.3 312,816.7 318,813.1 324,809.5 330,805.9 336,802.3 342,798.7 348,795.1 354,791.5 360,787.9 366,784.3 372,780.7 378,777.1 384,773.5 390,769.9 396,766.3 402,762.7 408,759.1 414,755.4 420,751.7 426,748.0 432,744.2 438,740.4 444,736.5 450,732.7 456,728.7 462,724.8 468,720.8 474,716.8 480,712.7 486,708.6 492,704.5 498,700.3 504,696.1 510,691.9 516,687.6 522,683.3 528,678.9 534,674.6 540,670.3 546,666.0 552,661.7 558,657.3 564,653.0 570,648.7 576,644.4 582,640.1 588,635.7 594,631.4 600,627.1 606,622.8 612,618.5 618,614.1 624,609.8 630,605.5 636,601.1 642,596.7 648,592.2 654,587.8 660,583.3 666,578.7 672,574.2 678,569.6 684,565.0 690,560.3 696,555.7 702,551.0 708,546.2 714,541.5 720,536.7 726,531.9"/>
<polyline points="300,841.4 306,837.8 312,834.2 318,830.6 324,827.0 330,823.4 336,819.8 342,816.2 348,812.6 354,809.0 360,805.4 366,801.8 372,798.2 378,794.6 384,791.0 390,787.4 396,783.8 402,780.2 408,776.6 414,772.9 420,769.2 426,765.5 432,761.7 438,757.9 444,754.0 450,750.2 456,746.2 462,742.3 468,738.3 474,734.3 480,730.2 486,726.1 492,722.0 498,717.8 504,713.6 510,709.4 516,705.1 522,700.8 528,696.4 534,692.1 540,687.8 546,683.5 552,679.2 558,674.8 564,670.5 570,666.2 576,661.9 582,657.6 588,653.2 594,648.9 600,644.6 606,640.3 612,636.0 618,631.6 624,627.3 630,623.0 636,618.6 642,614.2 648,609.7 654,605.3 660,600.8 666,596.2 672,591.7 678,587.1 684,582.5 690,577.8 696,573.2 702,568.5 708,563.7 714,559.0 720,554.2 726,549.4"/>
<polyline points="300,858.9 306,855.3 312,851.7 318,848.1 324,844.5 330,840.9 336,837.3 342,833.7 348,830.1 354,826.5 360,822.9 366,819.3 372,815.7 378,812.1 384,808.5 390,804.9 396,801.3 402,797.7 408,794.1 414,790.4 420,786.7 426,783.0 432,779.2 438,775.4 444,771.5 450,767.7 456,763.7 462,759.8 468,755.8 474,751.8 480,747.7 486,743.6 492,739.5 498,735.3 504,731.1 510,726.9 516,722.6 522,718.3 528,713.9 534,709.6 540,705.3 546,701.0 552,696.7 558,692.3 564,688.0 570,683.7 576,679.4 582,675.1 588,670.7 594,666.4 600,662.1 606,657.8 612,653.5 618,649.1 624,644.8 630,640.5 636,636.1 642,631.7 648,627.2 654,622.8 660,618.3 666,613.7 672,609.2 678,604.6 684,600.0 690,595.3 696,590.7 702,586.0 708,581.2 714,576.5 720,571.7 726,566.9"/>
<polyline points="300,876.4 306,872.8 312,869.2 318,865.6 324,862.0 330,858.4 336,854.8 342,851.2 348,847.6 354,844.0 360,840.4 366,836.8 372,833.2 378,829.6 384,826.0 390,822.4 396,818.8 402,815.2 408,811.6 414,807.9 420,804.2 426,800.5 432,796.7 438,792.9 444,789.0 450,785.2 456,781.2 462,777.3 468,773.3 474,769.3 480,765.2 486,761.1 492,757.0 498,752.8 504,748.6 510,744.4 516,740.1 522,735.8 528,731.4 534,727.1 540,722.8 546,718.5 552,714.2 558,709.8 564,705.5 570,701.2 576,696.9 582,692.6 588,688.2 594,683.9 600,679.6 606,675.3 612,671.0 618,666.6 624,662.3 630,658.0 636,653.6 642,649.2 648,644.7 654,640.3 660,635.8 666,631.2 672,626.7 678,622.1 684,617.5 690,612.8 696,608.2 702,603.5 708,598.7 714,594.0 720,589.2 726,584.4"/>
  </g>
  <g fill="none" clip-path="url(#aboveBridge2)">
    <path d="M 494.80 702.00 C 494.77 699.40 494.80 690.95 494.60 686.40 C 494.40 681.85 494.16 678.48 493.60 674.70 C 493.04 670.93 492.55 667.66 491.25 663.75 C 489.95 659.84 488.41 655.67 485.80 651.25 C 483.19 646.83 479.52 642.14 475.60 637.20 C 471.68 632.26 466.77 626.55 462.30 621.60 C 457.83 616.65 453.52 612.77 448.80 607.50 C 444.08 602.23 438.80 595.58 434.00 590.00 C 429.20 584.42 425.17 579.83 420.00 574.00 C 414.83 568.17 408.83 561.50 403.00 555.00 C 397.17 548.50 390.67 541.67 385.00 535.00 C 379.33 528.33 374.08 522.08 369.00 515.00 C 363.92 507.92 358.93 500.00 354.50 492.50 C 350.07 485.00 345.23 475.54 342.40 470.00 C 339.57 464.46 339.61 464.37 337.54 459.28 C 335.47 454.19 332.32 446.06 330.00 439.44 C 327.69 432.82 325.40 426.19 323.64 419.56 C 321.89 412.94 320.53 405.48 319.47 399.69 C 318.41 393.91 317.77 390.64 317.29 384.86 C 316.82 379.07 316.65 370.78 316.60 364.99 C 316.55 359.19 316.68 355.89 317.00 350.09 C 317.31 344.30 317.59 336.84 318.48 330.23 C 319.38 323.62 320.67 317.02 322.35 310.42 C 324.03 303.82 325.89 297.22 328.57 290.64 C 331.25 284.06 333.65 278.33 338.43 270.92 C 343.20 263.51 349.47 254.23 357.22 246.18 C 364.98 238.13 373.71 230.13 384.95 222.61 C 396.18 215.10 411.41 206.35 424.63 201.08 C 437.85 195.81 449.68 193.06 464.24 190.98 C 478.80 188.90 496.06 188.42 511.98 188.60 C 527.90 188.78 546.83 190.15 559.75 192.08 C 572.66 194.02 580.97 197.44 589.47 200.22 C 597.98 202.99 603.67 205.37 610.77 208.74 C 617.87 212.10 624.99 215.82 632.07 220.43 C 639.15 225.03 646.15 229.79 653.25 236.35 C 660.35 242.91 668.71 252.35 674.68 259.77 C 680.64 267.18 685.32 274.37 689.02 280.84 C 692.73 287.32 694.79 293.37 696.93 298.64 C 699.06 303.91 700.44 307.17 701.86 312.44 C 703.27 317.71 704.46 323.98 705.42 330.26 C 706.38 336.53 707.24 344.32 707.60 350.11 C 707.97 355.89 707.72 360.01 707.60 364.96 C 707.48 369.91 707.35 375.37 706.91 379.83 C 706.46 384.29 705.83 386.33 704.92 391.72 C 704.01 397.10 703.05 405.00 701.44 412.13 C 699.83 419.26 697.62 427.03 695.28 434.49 C 692.94 441.95 690.32 449.44 687.42 456.88 C 684.51 464.32 682.61 470.68 677.84 479.12 C 673.08 487.56 665.27 499.19 658.80 507.50 C 652.33 515.81 647.13 520.25 639.00 529.00 C 630.87 537.75 617.83 551.50 610.00 560.00 C 602.17 568.50 597.33 573.83 592.00 580.00 C 586.67 586.17 583.00 591.17 578.00 597.00 C 573.00 602.83 567.07 608.90 562.00 615.00 C 556.93 621.10 551.52 628.60 547.60 633.60 C 543.68 638.60 541.18 640.77 538.50 645.00 C 535.82 649.23 533.03 654.50 531.50 659.00 C 529.97 663.50 529.73 667.43 529.30 672.00 C 528.87 676.57 528.98 681.40 528.90 686.40 C 528.82 691.40 528.82 699.40 528.80 702.00" stroke="#0f3a55" stroke-width="21.8"/>
    <path d="M 494.80 702.00 C 494.77 699.40 494.80 690.95 494.60 686.40 C 494.40 681.85 494.16 678.48 493.60 674.70 C 493.04 670.93 492.55 667.66 491.25 663.75 C 489.95 659.84 488.41 655.67 485.80 651.25 C 483.19 646.83 479.52 642.14 475.60 637.20 C 471.68 632.26 466.77 626.55 462.30 621.60 C 457.83 616.65 453.52 612.77 448.80 607.50 C 444.08 602.23 438.80 595.58 434.00 590.00 C 429.20 584.42 425.17 579.83 420.00 574.00 C 414.83 568.17 408.83 561.50 403.00 555.00 C 397.17 548.50 390.67 541.67 385.00 535.00 C 379.33 528.33 374.08 522.08 369.00 515.00 C 363.92 507.92 358.93 500.00 354.50 492.50 C 350.07 485.00 345.23 475.54 342.40 470.00 C 339.57 464.46 339.61 464.37 337.54 459.28 C 335.47 454.19 332.32 446.06 330.00 439.44 C 327.69 432.82 325.40 426.19 323.64 419.56 C 321.89 412.94 320.53 405.48 319.47 399.69 C 318.41 393.91 317.77 390.64 317.29 384.86 C 316.82 379.07 316.65 370.78 316.60 364.99 C 316.55 359.19 316.68 355.89 317.00 350.09 C 317.31 344.30 317.59 336.84 318.48 330.23 C 319.38 323.62 320.67 317.02 322.35 310.42 C 324.03 303.82 325.89 297.22 328.57 290.64 C 331.25 284.06 333.65 278.33 338.43 270.92 C 343.20 263.51 349.47 254.23 357.22 246.18 C 364.98 238.13 373.71 230.13 384.95 222.61 C 396.18 215.10 411.41 206.35 424.63 201.08 C 437.85 195.81 449.68 193.06 464.24 190.98 C 478.80 188.90 496.06 188.42 511.98 188.60 C 527.90 188.78 546.83 190.15 559.75 192.08 C 572.66 194.02 580.97 197.44 589.47 200.22 C 597.98 202.99 603.67 205.37 610.77 208.74 C 617.87 212.10 624.99 215.82 632.07 220.43 C 639.15 225.03 646.15 229.79 653.25 236.35 C 660.35 242.91 668.71 252.35 674.68 259.77 C 680.64 267.18 685.32 274.37 689.02 280.84 C 692.73 287.32 694.79 293.37 696.93 298.64 C 699.06 303.91 700.44 307.17 701.86 312.44 C 703.27 317.71 704.46 323.98 705.42 330.26 C 706.38 336.53 707.24 344.32 707.60 350.11 C 707.97 355.89 707.72 360.01 707.60 364.96 C 707.48 369.91 707.35 375.37 706.91 379.83 C 706.46 384.29 705.83 386.33 704.92 391.72 C 704.01 397.10 703.05 405.00 701.44 412.13 C 699.83 419.26 697.62 427.03 695.28 434.49 C 692.94 441.95 690.32 449.44 687.42 456.88 C 684.51 464.32 682.61 470.68 677.84 479.12 C 673.08 487.56 665.27 499.19 658.80 507.50 C 652.33 515.81 647.13 520.25 639.00 529.00 C 630.87 537.75 617.83 551.50 610.00 560.00 C 602.17 568.50 597.33 573.83 592.00 580.00 C 586.67 586.17 583.00 591.17 578.00 597.00 C 573.00 602.83 567.07 608.90 562.00 615.00 C 556.93 621.10 551.52 628.60 547.60 633.60 C 543.68 638.60 541.18 640.77 538.50 645.00 C 535.82 649.23 533.03 654.50 531.50 659.00 C 529.97 663.50 529.73 667.43 529.30 672.00 C 528.87 676.57 528.98 681.40 528.90 686.40 C 528.82 691.40 528.82 699.40 528.80 702.00" stroke="#fdfdfc" stroke-width="15.8"/>
  </g>
  <g fill="none" clip-path="url(#throatBand)">
    <path d="M 494.80 702.00 C 494.77 699.40 494.80 690.95 494.60 686.40 C 494.40 681.85 494.16 678.48 493.60 674.70 C 493.04 670.93 492.55 667.66 491.25 663.75 C 489.95 659.84 488.41 655.67 485.80 651.25 C 483.19 646.83 479.52 642.14 475.60 637.20 C 471.68 632.26 466.77 626.55 462.30 621.60 C 457.83 616.65 453.52 612.77 448.80 607.50 C 444.08 602.23 438.80 595.58 434.00 590.00 C 429.20 584.42 425.17 579.83 420.00 574.00 C 414.83 568.17 408.83 561.50 403.00 555.00 C 397.17 548.50 390.67 541.67 385.00 535.00 C 379.33 528.33 374.08 522.08 369.00 515.00 C 363.92 507.92 358.93 500.00 354.50 492.50 C 350.07 485.00 345.23 475.54 342.40 470.00 C 339.57 464.46 339.61 464.37 337.54 459.28 C 335.47 454.19 332.32 446.06 330.00 439.44 C 327.69 432.82 325.40 426.19 323.64 419.56 C 321.89 412.94 320.53 405.48 319.47 399.69 C 318.41 393.91 317.77 390.64 317.29 384.86 C 316.82 379.07 316.65 370.78 316.60 364.99 C 316.55 359.19 316.68 355.89 317.00 350.09 C 317.31 344.30 317.59 336.84 318.48 330.23 C 319.38 323.62 320.67 317.02 322.35 310.42 C 324.03 303.82 325.89 297.22 328.57 290.64 C 331.25 284.06 333.65 278.33 338.43 270.92 C 343.20 263.51 349.47 254.23 357.22 246.18 C 364.98 238.13 373.71 230.13 384.95 222.61 C 396.18 215.10 411.41 206.35 424.63 201.08 C 437.85 195.81 449.68 193.06 464.24 190.98 C 478.80 188.90 496.06 188.42 511.98 188.60 C 527.90 188.78 546.83 190.15 559.75 192.08 C 572.66 194.02 580.97 197.44 589.47 200.22 C 597.98 202.99 603.67 205.37 610.77 208.74 C 617.87 212.10 624.99 215.82 632.07 220.43 C 639.15 225.03 646.15 229.79 653.25 236.35 C 660.35 242.91 668.71 252.35 674.68 259.77 C 680.64 267.18 685.32 274.37 689.02 280.84 C 692.73 287.32 694.79 293.37 696.93 298.64 C 699.06 303.91 700.44 307.17 701.86 312.44 C 703.27 317.71 704.46 323.98 705.42 330.26 C 706.38 336.53 707.24 344.32 707.60 350.11 C 707.97 355.89 707.72 360.01 707.60 364.96 C 707.48 369.91 707.35 375.37 706.91 379.83 C 706.46 384.29 705.83 386.33 704.92 391.72 C 704.01 397.10 703.05 405.00 701.44 412.13 C 699.83 419.26 697.62 427.03 695.28 434.49 C 692.94 441.95 690.32 449.44 687.42 456.88 C 684.51 464.32 682.61 470.68 677.84 479.12 C 673.08 487.56 665.27 499.19 658.80 507.50 C 652.33 515.81 647.13 520.25 639.00 529.00 C 630.87 537.75 617.83 551.50 610.00 560.00 C 602.17 568.50 597.33 573.83 592.00 580.00 C 586.67 586.17 583.00 591.17 578.00 597.00 C 573.00 602.83 567.07 608.90 562.00 615.00 C 556.93 621.10 551.52 628.60 547.60 633.60 C 543.68 638.60 541.18 640.77 538.50 645.00 C 535.82 649.23 533.03 654.50 531.50 659.00 C 529.97 663.50 529.73 667.43 529.30 672.00 C 528.87 676.57 528.98 681.40 528.90 686.40 C 528.82 691.40 528.82 699.40 528.80 702.00" stroke="#223a4c" stroke-width="11.4"/>
    <path d="M 494.80 702.00 C 494.77 699.40 494.80 690.95 494.60 686.40 C 494.40 681.85 494.16 678.48 493.60 674.70 C 493.04 670.93 492.55 667.66 491.25 663.75 C 489.95 659.84 488.41 655.67 485.80 651.25 C 483.19 646.83 479.52 642.14 475.60 637.20 C 471.68 632.26 466.77 626.55 462.30 621.60 C 457.83 616.65 453.52 612.77 448.80 607.50 C 444.08 602.23 438.80 595.58 434.00 590.00 C 429.20 584.42 425.17 579.83 420.00 574.00 C 414.83 568.17 408.83 561.50 403.00 555.00 C 397.17 548.50 390.67 541.67 385.00 535.00 C 379.33 528.33 374.08 522.08 369.00 515.00 C 363.92 507.92 358.93 500.00 354.50 492.50 C 350.07 485.00 345.23 475.54 342.40 470.00 C 339.57 464.46 339.61 464.37 337.54 459.28 C 335.47 454.19 332.32 446.06 330.00 439.44 C 327.69 432.82 325.40 426.19 323.64 419.56 C 321.89 412.94 320.53 405.48 319.47 399.69 C 318.41 393.91 317.77 390.64 317.29 384.86 C 316.82 379.07 316.65 370.78 316.60 364.99 C 316.55 359.19 316.68 355.89 317.00 350.09 C 317.31 344.30 317.59 336.84 318.48 330.23 C 319.38 323.62 320.67 317.02 322.35 310.42 C 324.03 303.82 325.89 297.22 328.57 290.64 C 331.25 284.06 333.65 278.33 338.43 270.92 C 343.20 263.51 349.47 254.23 357.22 246.18 C 364.98 238.13 373.71 230.13 384.95 222.61 C 396.18 215.10 411.41 206.35 424.63 201.08 C 437.85 195.81 449.68 193.06 464.24 190.98 C 478.80 188.90 496.06 188.42 511.98 188.60 C 527.90 188.78 546.83 190.15 559.75 192.08 C 572.66 194.02 580.97 197.44 589.47 200.22 C 597.98 202.99 603.67 205.37 610.77 208.74 C 617.87 212.10 624.99 215.82 632.07 220.43 C 639.15 225.03 646.15 229.79 653.25 236.35 C 660.35 242.91 668.71 252.35 674.68 259.77 C 680.64 267.18 685.32 274.37 689.02 280.84 C 692.73 287.32 694.79 293.37 696.93 298.64 C 699.06 303.91 700.44 307.17 701.86 312.44 C 703.27 317.71 704.46 323.98 705.42 330.26 C 706.38 336.53 707.24 344.32 707.60 350.11 C 707.97 355.89 707.72 360.01 707.60 364.96 C 707.48 369.91 707.35 375.37 706.91 379.83 C 706.46 384.29 705.83 386.33 704.92 391.72 C 704.01 397.10 703.05 405.00 701.44 412.13 C 699.83 419.26 697.62 427.03 695.28 434.49 C 692.94 441.95 690.32 449.44 687.42 456.88 C 684.51 464.32 682.61 470.68 677.84 479.12 C 673.08 487.56 665.27 499.19 658.80 507.50 C 652.33 515.81 647.13 520.25 639.00 529.00 C 630.87 537.75 617.83 551.50 610.00 560.00 C 602.17 568.50 597.33 573.83 592.00 580.00 C 586.67 586.17 583.00 591.17 578.00 597.00 C 573.00 602.83 567.07 608.90 562.00 615.00 C 556.93 621.10 551.52 628.60 547.60 633.60 C 543.68 638.60 541.18 640.77 538.50 645.00 C 535.82 649.23 533.03 654.50 531.50 659.00 C 529.97 663.50 529.73 667.43 529.30 672.00 C 528.87 676.57 528.98 681.40 528.90 686.40 C 528.82 691.40 528.82 699.40 528.80 702.00" stroke="#fdfdfc" stroke-width="8.8"/>
  </g>
</g>
<!-- inner dashed continuation inside head -->
<g stroke="#243c50" stroke-width="1.8" fill="none">
<line x1="318" y1="361" x2="408" y2="361" stroke-dasharray="5 4 2 4"/>
<line x1="656" y1="353" x2="664" y2="353"/>
<line x1="683" y1="353" x2="691" y2="353"/>
</g>
<!-- veins -->
<g stroke="#1c3d55" stroke-width="1" fill="none" stroke-linecap="round">
<path d="M 509.7 569 L 509.7 516.8" stroke-width="2.3"/>
<path d="M 509.7 516.8 Q 501 510 492.7 508 Q 488 506.5 484.5 504.5"/>
<path d="M 509.7 516.8 Q 510.5 504 510.3 498.7 Q 505 496 499.8 495.7"/>
<path d="M 510.3 498.7 Q 516 492 519.7 485.8 Q 522 478 520.9 474 Q 520 466 517.3 460 Q 514 452 512 448"/>
<path d="M 509.7 516.8 Q 516 509 524.4 499.8"/>
<path d="M 482.2 458 Q 485 466 488 472.9 Q 490 476 491.6 477.6"/>
<path d="M 529.5 458 Q 532.6 466 532.6 470.5 Q 532.4 474 531.4 477.6"/>
<path d="M 458.8 472.9 Q 456 478 454 480 Q 450 482 444.7 482.3"/>
<path d="M 484.5 381.7 L 485.7 392.3"/>
<path d="M 529 370 Q 532 380 535 391"/>
<path d="M 484 419.2 Q 491 430 498.6 440.3"/>
<path d="M 502.1 414.5 Q 506 424 510.3 433.3"/>
<path d="M 489.2 427.4 Q 481 433 480.5 445 Q 480 457 484.5 468.4 Q 487 474 489.2 479"/>
<path d="M 460 420.4 L 457 429.8"/>
<path d="M 526.7 450.9 Q 531 456 532.6 463.8 Q 533 472 532.6 480"/>
<path d="M 517.3 461.4 L 519.7 480"/>
<path d="M 440 462 Q 446 468 446 474"/>
<path d="M 603 438 Q 606 432 614 430"/>
</g>
<!-- holes -->
<g fill="#ffffff" stroke="#0f3d52" stroke-width="5">
<circle cx="437.5" cy="251.3" r="9.9"/>
<circle cx="486.6" cy="239.4" r="9.9"/>
<circle cx="534.4" cy="239.4" r="9.9"/>
<circle cx="581.9" cy="250.3" r="9.9"/>
<circle cx="402.5" cy="281.0" r="9.9"/>
<circle cx="466.0" cy="288.8" r="9.9"/>
<circle cx="511.3" cy="281.0" r="9.9"/>
<circle cx="556.0" cy="288.8" r="9.9"/>
<circle cx="618.0" cy="281.0" r="9.9"/>
<circle cx="378.8" cy="327.8" r="9.9"/>
<circle cx="433.8" cy="323.0" r="9.9"/>
<circle cx="486.0" cy="324.7" r="9.9"/>
<circle cx="534.4" cy="324.7" r="9.9"/>
<circle cx="587.5" cy="323.0" r="9.9"/>
<circle cx="643.8" cy="327.8" r="9.9"/>
<circle cx="419.4" cy="363.8" r="9.9"/>
<circle cx="465.0" cy="362.8" r="9.9"/>
<circle cx="511.9" cy="362.2" r="9.9"/>
<circle cx="558.8" cy="362.2" r="9.9"/>
<circle cx="603.0" cy="362.2" r="9.9"/>
<circle cx="377.5" cy="398.0" r="9.9"/>
<circle cx="432.8" cy="406.0" r="9.9"/>
<circle cx="486.0" cy="405.0" r="9.9"/>
<circle cx="536.0" cy="403.8" r="9.9"/>
<circle cx="589.0" cy="405.0" r="9.9"/>
<circle cx="645.0" cy="397.5" r="9.9"/>
<circle cx="396.0" cy="441.0" r="9.9"/>
<circle cx="462.5" cy="442.0" r="9.9"/>
<circle cx="510.0" cy="448.0" r="9.9"/>
<circle cx="560.0" cy="440.0" r="9.9"/>
<circle cx="625.0" cy="442.0" r="9.9"/>
<circle cx="432.0" cy="474.0" r="9.9"/>
<circle cx="590.0" cy="474.7" r="9.9"/>
<circle cx="486.0" cy="490.0" r="9.9"/>
<circle cx="536.5" cy="490.0" r="9.9"/>
</g>
<g fill="none" stroke="#4a9ab0" stroke-width="0.8" opacity="0.75">
<circle cx="437.5" cy="251.3" r="10.6"/>
<circle cx="486.6" cy="239.4" r="10.6"/>
<circle cx="534.4" cy="239.4" r="10.6"/>
<circle cx="581.9" cy="250.3" r="10.6"/>
<circle cx="402.5" cy="281.0" r="10.6"/>
<circle cx="466.0" cy="288.8" r="10.6"/>
<circle cx="511.3" cy="281.0" r="10.6"/>
<circle cx="556.0" cy="288.8" r="10.6"/>
<circle cx="618.0" cy="281.0" r="10.6"/>
<circle cx="378.8" cy="327.8" r="10.6"/>
<circle cx="433.8" cy="323.0" r="10.6"/>
<circle cx="486.0" cy="324.7" r="10.6"/>
<circle cx="534.4" cy="324.7" r="10.6"/>
<circle cx="587.5" cy="323.0" r="10.6"/>
<circle cx="643.8" cy="327.8" r="10.6"/>
<circle cx="419.4" cy="363.8" r="10.6"/>
<circle cx="465.0" cy="362.8" r="10.6"/>
<circle cx="511.9" cy="362.2" r="10.6"/>
<circle cx="558.8" cy="362.2" r="10.6"/>
<circle cx="603.0" cy="362.2" r="10.6"/>
<circle cx="377.5" cy="398.0" r="10.6"/>
<circle cx="432.8" cy="406.0" r="10.6"/>
<circle cx="486.0" cy="405.0" r="10.6"/>
<circle cx="536.0" cy="403.8" r="10.6"/>
<circle cx="589.0" cy="405.0" r="10.6"/>
<circle cx="645.0" cy="397.5" r="10.6"/>
<circle cx="396.0" cy="441.0" r="10.6"/>
<circle cx="462.5" cy="442.0" r="10.6"/>
<circle cx="510.0" cy="448.0" r="10.6"/>
<circle cx="560.0" cy="440.0" r="10.6"/>
<circle cx="625.0" cy="442.0" r="10.6"/>
<circle cx="432.0" cy="474.0" r="10.6"/>
<circle cx="590.0" cy="474.7" r="10.6"/>
<circle cx="486.0" cy="490.0" r="10.6"/>
<circle cx="536.5" cy="490.0" r="10.6"/>
</g>

<!-- throat opening -->
<path d="M 456 577 Q 511 592 568 578 L 518 640 Q 511 648 504 640 Z" fill="#f2f2f2"/>
<!-- throat thin lines -->
<g fill="none" stroke="#1b3e56" stroke-width="1">
<path d="M 451 583 L 500 643.5 Q 511 657 522 643.5 L 574 582"/>
</g>
<!-- V -->
<path d="M 456 580 L 475 605 L 504 640 Q 511 648 518 640 L 549 605 L 570 579" fill="none" stroke="#0f3a55" stroke-width="4" stroke-linejoin="round"/>
<!-- bridge -->
<path d="M 452 567 Q 510 583.6 567 567.2" fill="none" stroke="#0f3a55" stroke-width="3.1"/>
<path d="M 455 575.5 Q 511 591 568 576.2" fill="none" stroke="#0f3a55" stroke-width="3.6"/>
<path d="M 444.5 568 Q 449 565.5 456.5 566.5 Q 459 572 458 579.5 Q 453 581 449.5 579 Z" fill="#0f3a55"/>
<path d="M 565.5 566.5 Q 571 564.5 576 567 Q 574.5 573 571 578.5 Q 567.5 579 565.5 577.5 Z" fill="#0f3a55"/>
<path d="M 576 567 Q 579 569 583 566.5" fill="none" stroke="#0f3a55" stroke-width="1.6"/>
<!-- outer frame -->
<path d="M 494.80 702.00 C 494.77 699.40 494.80 690.95 494.60 686.40 C 494.40 681.85 494.16 678.48 493.60 674.70 C 493.04 670.93 492.55 667.66 491.25 663.75 C 489.95 659.84 488.41 655.67 485.80 651.25 C 483.19 646.83 479.52 642.14 475.60 637.20 C 471.68 632.26 466.77 626.55 462.30 621.60 C 457.83 616.65 453.52 612.77 448.80 607.50 C 444.08 602.23 438.80 595.58 434.00 590.00 C 429.20 584.42 425.17 579.83 420.00 574.00 C 414.83 568.17 408.83 561.50 403.00 555.00 C 397.17 548.50 390.67 541.67 385.00 535.00 C 379.33 528.33 374.08 522.08 369.00 515.00 C 363.92 507.92 358.93 500.00 354.50 492.50 C 350.07 485.00 345.23 475.54 342.40 470.00 C 339.57 464.46 339.61 464.37 337.54 459.28 C 335.47 454.19 332.32 446.06 330.00 439.44 C 327.69 432.82 325.40 426.19 323.64 419.56 C 321.89 412.94 320.53 405.48 319.47 399.69 C 318.41 393.91 317.77 390.64 317.29 384.86 C 316.82 379.07 316.65 370.78 316.60 364.99 C 316.55 359.19 316.68 355.89 317.00 350.09 C 317.31 344.30 317.59 336.84 318.48 330.23 C 319.38 323.62 320.67 317.02 322.35 310.42 C 324.03 303.82 325.89 297.22 328.57 290.64 C 331.25 284.06 333.65 278.33 338.43 270.92 C 343.20 263.51 349.47 254.23 357.22 246.18 C 364.98 238.13 373.71 230.13 384.95 222.61 C 396.18 215.10 411.41 206.35 424.63 201.08 C 437.85 195.81 449.68 193.06 464.24 190.98 C 478.80 188.90 496.06 188.42 511.98 188.60 C 527.90 188.78 546.83 190.15 559.75 192.08 C 572.66 194.02 580.97 197.44 589.47 200.22 C 597.98 202.99 603.67 205.37 610.77 208.74 C 617.87 212.10 624.99 215.82 632.07 220.43 C 639.15 225.03 646.15 229.79 653.25 236.35 C 660.35 242.91 668.71 252.35 674.68 259.77 C 680.64 267.18 685.32 274.37 689.02 280.84 C 692.73 287.32 694.79 293.37 696.93 298.64 C 699.06 303.91 700.44 307.17 701.86 312.44 C 703.27 317.71 704.46 323.98 705.42 330.26 C 706.38 336.53 707.24 344.32 707.60 350.11 C 707.97 355.89 707.72 360.01 707.60 364.96 C 707.48 369.91 707.35 375.37 706.91 379.83 C 706.46 384.29 705.83 386.33 704.92 391.72 C 704.01 397.10 703.05 405.00 701.44 412.13 C 699.83 419.26 697.62 427.03 695.28 434.49 C 692.94 441.95 690.32 449.44 687.42 456.88 C 684.51 464.32 682.61 470.68 677.84 479.12 C 673.08 487.56 665.27 499.19 658.80 507.50 C 652.33 515.81 647.13 520.25 639.00 529.00 C 630.87 537.75 617.83 551.50 610.00 560.00 C 602.17 568.50 597.33 573.83 592.00 580.00 C 586.67 586.17 583.00 591.17 578.00 597.00 C 573.00 602.83 567.07 608.90 562.00 615.00 C 556.93 621.10 551.52 628.60 547.60 633.60 C 543.68 638.60 541.18 640.77 538.50 645.00 C 535.82 649.23 533.03 654.50 531.50 659.00 C 529.97 663.50 529.73 667.43 529.30 672.00 C 528.87 676.57 528.98 681.40 528.90 686.40 C 528.82 691.40 528.82 699.40 528.80 702.00" fill="none" stroke="#0f3a55" stroke-width="3.4"/>
<path d="M 494.80 702.00 C 494.77 699.40 494.80 690.95 494.60 686.40 C 494.40 681.85 494.16 678.48 493.60 674.70 C 493.04 670.93 492.55 667.66 491.25 663.75 C 489.95 659.84 488.41 655.67 485.80 651.25 C 483.19 646.83 479.52 642.14 475.60 637.20 C 471.68 632.26 466.77 626.55 462.30 621.60 C 457.83 616.65 453.52 612.77 448.80 607.50 C 444.08 602.23 438.80 595.58 434.00 590.00 C 429.20 584.42 425.17 579.83 420.00 574.00 C 414.83 568.17 408.83 561.50 403.00 555.00 C 397.17 548.50 390.67 541.67 385.00 535.00 C 379.33 528.33 374.08 522.08 369.00 515.00 C 363.92 507.92 358.93 500.00 354.50 492.50 C 350.07 485.00 345.23 475.54 342.40 470.00 C 339.57 464.46 339.61 464.37 337.54 459.28 C 335.47 454.19 332.32 446.06 330.00 439.44 C 327.69 432.82 325.40 426.19 323.64 419.56 C 321.89 412.94 320.53 405.48 319.47 399.69 C 318.41 393.91 317.77 390.64 317.29 384.86 C 316.82 379.07 316.65 370.78 316.60 364.99 C 316.55 359.19 316.68 355.89 317.00 350.09 C 317.31 344.30 317.59 336.84 318.48 330.23 C 319.38 323.62 320.67 317.02 322.35 310.42 C 324.03 303.82 325.89 297.22 328.57 290.64 C 331.25 284.06 333.65 278.33 338.43 270.92 C 343.20 263.51 349.47 254.23 357.22 246.18 C 364.98 238.13 373.71 230.13 384.95 222.61 C 396.18 215.10 411.41 206.35 424.63 201.08 C 437.85 195.81 449.68 193.06 464.24 190.98 C 478.80 188.90 496.06 188.42 511.98 188.60 C 527.90 188.78 546.83 190.15 559.75 192.08 C 572.66 194.02 580.97 197.44 589.47 200.22 C 597.98 202.99 603.67 205.37 610.77 208.74 C 617.87 212.10 624.99 215.82 632.07 220.43 C 639.15 225.03 646.15 229.79 653.25 236.35 C 660.35 242.91 668.71 252.35 674.68 259.77 C 680.64 267.18 685.32 274.37 689.02 280.84 C 692.73 287.32 694.79 293.37 696.93 298.64 C 699.06 303.91 700.44 307.17 701.86 312.44 C 703.27 317.71 704.46 323.98 705.42 330.26 C 706.38 336.53 707.24 344.32 707.60 350.11 C 707.97 355.89 707.72 360.01 707.60 364.96 C 707.48 369.91 707.35 375.37 706.91 379.83 C 706.46 384.29 705.83 386.33 704.92 391.72 C 704.01 397.10 703.05 405.00 701.44 412.13 C 699.83 419.26 697.62 427.03 695.28 434.49 C 692.94 441.95 690.32 449.44 687.42 456.88 C 684.51 464.32 682.61 470.68 677.84 479.12 C 673.08 487.56 665.27 499.19 658.80 507.50 C 652.33 515.81 647.13 520.25 639.00 529.00 C 630.87 537.75 617.83 551.50 610.00 560.00 C 602.17 568.50 597.33 573.83 592.00 580.00 C 586.67 586.17 583.00 591.17 578.00 597.00 C 573.00 602.83 567.07 608.90 562.00 615.00 C 556.93 621.10 551.52 628.60 547.60 633.60 C 543.68 638.60 541.18 640.77 538.50 645.00 C 535.82 649.23 533.03 654.50 531.50 659.00 C 529.97 663.50 529.73 667.43 529.30 672.00 C 528.87 676.57 528.98 681.40 528.90 686.40 C 528.82 691.40 528.82 699.40 528.80 702.00" fill="none" stroke="#0f3a55" stroke-width="4.3" clip-path="url(#belowBridge)"/>

<!-- green -->
<path d="M 502.2 662.6 Q 504 657.5 511.2 656.3 Q 518 657 520 661 L 521.3 664.5 L 518.6 690.7 L 504.5 690.7 Z" fill="#4ccfae"/>

<!-- collar -->
<rect x="496" y="697" width="32" height="3" fill="#144459"/>
<rect x="492" y="704" width="39.5" height="7" fill="#144459"/>
<rect x="488.5" y="709" width="47" height="2" fill="#144459"/>
<rect x="488.5" y="713" width="47" height="5.7" fill="#144459"/>
<rect x="492" y="710.8" width="40" height="2.2" fill="#ffffff"/>

<!-- handle -->
<path d="M 489.3 718 L 489.3 928 Q 489 935 485.5 940 Q 482 945 482.5 950 Q 483.5 956 490 957 Q 511 959.5 533 957 Q 539.5 956 540.5 950 Q 541 945 537.5 940 Q 534 935 533.8 928 L 533.8 718" fill="#ffffff" stroke="#144459" stroke-width="5.2" stroke-linejoin="round"/>
<g fill="none" stroke="#1b3a50" stroke-width="1.3">
<path d="M 491.5 734.0 Q 514 731.5 532 724.1"/>
<path d="M 491.5 770.3 Q 514 767.8 532 759.7"/>
<path d="M 491.5 806.6 Q 514 804.1 532 795.2"/>
<path d="M 491.5 841.5 Q 514 839.0 532 831.5"/>
<path d="M 491.5 876.3 Q 514 873.8 532 866.4"/>
<path d="M 491.5 911.7 Q 514 909.2 532 902.2"/>
<path d="M 488 940.7 Q 511 942.5 535 940.3"/>
</g>

<!-- icons -->
<g fill="none" stroke="#0f3149" stroke-width="4.2" stroke-linejoin="round">
<ellipse cx="133" cy="356.4" rx="29.8" ry="42" transform="rotate(20 133 356.4)"/>
<ellipse cx="126" cy="358.5" rx="22.5" ry="35" transform="rotate(20 126 358.5)"/>
</g>
<g fill="none" stroke="#113f58" stroke-width="4.8" stroke-linejoin="round">
<path d="M 139.4 682.7 L 170.4 699.4 L 170.4 738.1 L 139.4 755 L 108 738.1 L 108 699.4 Z"/>
<path d="M 139.4 692.6 L 160.2 703 L 160.2 733.2 L 139.4 743.5 L 118.6 733.2 L 118.6 703 Z"/>
<path d="M 118.6 703 L 139.4 713 L 160.2 703 M 139.4 713 L 139.4 755 M 139.4 682.7 L 139.4 692.6 M 108 699.4 L 118.6 703 M 170.4 699.4 L 160.2 703 M 108 738.1 L 118.6 733.2 M 170.4 738.1 L 160.2 733.2"/>
</g>
<g fill="none" stroke="#0f3550" stroke-width="4" stroke-linejoin="round">
<path d="M 861.9 329.2 L 910.2 329.2 L 924.6 351.6 L 885.8 400.5 L 846.7 351.6 Z"/>
<path d="M 846.7 351.6 L 924.6 351.6"/>
<path d="M 863 331 L 872.1 348.2 L 886.3 331 L 899 347.7 L 909 331"/>
<path d="M 868.2 352.6 L 884.3 391.5 M 886.8 352.6 L 885.8 392 M 901.9 352.6 L 888.2 391"/>
</g>
<g fill="none" stroke="#174760" stroke-width="4.7" stroke-linejoin="round">
<path d="M 858 669.5 L 913.8 669.5 L 932.5 697.4 L 886.4 761 L 838.8 698 Z"/>
<path d="M 838.8 698 L 932.5 697.7"/>
<path d="M 860 671 L 869.7 695.3 L 885.9 673.3 L 900.9 694.7 L 911.6 671"/>
<path d="M 868.7 698.5 L 883.7 749.5 M 900.9 699 L 888.5 748.4"/>
</g>

<text id="t_case" x="173.60" y="81.60" font-size="37.80" font-weight="normal" fill="#10283f" stroke="#10283f" stroke-width="1.00" textLength="103.20" lengthAdjust="spacingAndGlyphs">CASE</text>
<text id="t_study" x="291.00" y="81.60" font-size="37.80" font-weight="normal" fill="#10283f" stroke="#10283f" stroke-width="1.00" textLength="125.40" lengthAdjust="spacingAndGlyphs">STUDY</text>
<text id="t_high" x="434.40" y="81.60" font-size="37.80" font-weight="normal" fill="#10283f" stroke="#10283f" stroke-width="1.00" textLength="102.40" lengthAdjust="spacingAndGlyphs">HIGH</text>
<text id="t_perf" x="551.00" y="81.60" font-size="37.80" font-weight="normal" fill="#10283f" stroke="#10283f" stroke-width="1.00" textLength="299.00" lengthAdjust="spacingAndGlyphs">PERFORMANCE</text>
<text id="t_padel" x="370.20" y="133.70" font-size="37.80" font-weight="normal" fill="#10283f" stroke="#10283f" stroke-width="1.00" textLength="278.20" lengthAdjust="spacingAndGlyphs">PADELAACKET</text>
<text id="t_l1a" x="70.60" y="444.90" font-size="22.50" font-weight="bold" fill="#10283f" textLength="135.80" lengthAdjust="spacingAndGlyphs">CUPURIURED</text>
<text id="t_l1b" x="66.40" y="485.50" font-size="22.00" font-weight="normal" fill="#2c4055" textLength="135.60" lengthAdjust="spacingAndGlyphs">2O1% ( CL23</text>
<text id="t_l1c" x="72.60" y="526.40" font-size="22.00" font-weight="normal" fill="#2c4055" textLength="123.20" lengthAdjust="spacingAndGlyphs">100% Calie</text>
<text id="t_r1a" x="800.40" y="446.00" font-size="22.50" font-weight="bold" fill="#10283f" textLength="155.00" lengthAdjust="spacingAndGlyphs">ARDIFLAJCTIN</text>
<text id="t_r1b" x="815.00" y="485.70" font-size="22.00" font-weight="normal" fill="#2c4055" textLength="123.80" lengthAdjust="spacingAndGlyphs">FIRZ ⸗ SOO9</text>
<text id="t_r1c" x="811.40" y="525.80" font-size="22.00" font-weight="normal" fill="#2c4055" textLength="135.20" lengthAdjust="spacingAndGlyphs">RIOSZ SIANES</text>
<text id="t_l2a" x="57.60" y="815.30" font-size="22.50" font-weight="bold" fill="#10283f" textLength="162.80" lengthAdjust="spacingAndGlyphs">SETFANCAIGY</text>
<text id="t_l2b" x="74.80" y="854.40" font-size="22.00" font-weight="normal" fill="#2c4055" textLength="132.60" lengthAdjust="spacingAndGlyphs">E/VIK ulreese</text>
<text id="t_l2c" x="36.00" y="889.90" font-size="22.00" font-weight="normal" fill="#2c4055" textLength="204.00" lengthAdjust="spacingAndGlyphs">Vionresies urnelsIss</text>
<text id="t_r2a" x="769.60" y="817.00" font-size="22.50" font-weight="bold" fill="#10283f" textLength="226.00" lengthAdjust="spacingAndGlyphs">WATTTHIABLGEYON</text>
<text id="t_r2b" x="768.60" y="853.60" font-size="22.00" font-weight="normal" fill="#2c4055" textLength="226.20" lengthAdjust="spacingAndGlyphs">5o yorar to Metr-y and</text>
<text id="t_r2c" x="788.20" y="888.30" font-size="22.00" font-weight="normal" fill="#2c4055" textLength="179.40" lengthAdjust="spacingAndGlyphs">ur gooIde gjhetior</text>
</svg>
</body></html>
